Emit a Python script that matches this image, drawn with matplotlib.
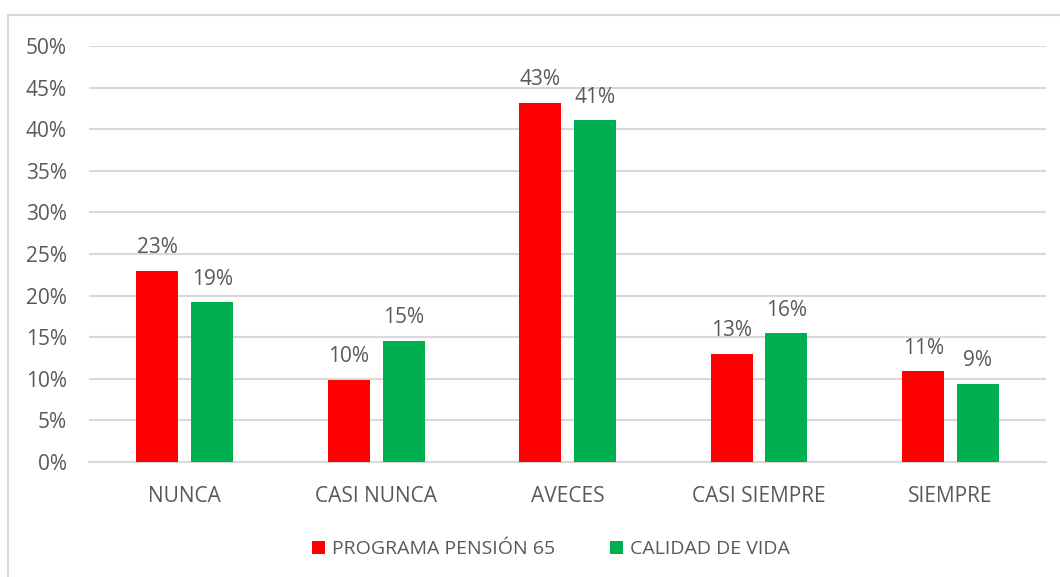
import matplotlib.pyplot as plt
from matplotlib.lines import Line2D
import numpy as np

categories = ["NUNCA", "CASI NUNCA", "AVECES", "CASI SIEMPRE", "SIEMPRE"]
pension = [0.230, 0.099, 0.432, 0.130, 0.109]
calidad = [0.192, 0.146, 0.411, 0.155, 0.094]
pension_labels = ["23%", "10%", "43%", "13%", "11%"]
calidad_labels = ["19%", "15%", "41%", "16%", "9%"]
series_names = ["PROGRAMA PENSIÓN 65", "CALIDAD DE VIDA"]

RED = "#ff0000"
GREEN = "#00b050"
TEXT = "#595959"
GRID = "#d9d9d9"

plt.rcParams["font.family"] = ["Open Sans", "DejaVu Sans"]

fig = plt.figure(figsize=(10.6, 5.77), dpi=100)
ax = fig.add_axes([0.084, 0.1993, 0.903, 0.721])

x = np.arange(len(categories))
w = 0.22
off = 0.143
b1 = ax.bar(x - off, pension, w, color=RED, label=series_names[0], zorder=3)
b2 = ax.bar(x + off, calidad, w, color=GREEN, label=series_names[1], zorder=3)

for bars, labels in ((b1, pension_labels), (b2, calidad_labels)):
    for rect, lab in zip(bars, labels):
        ax.annotate(lab, (rect.get_x() + rect.get_width() / 2, rect.get_height()),
                    xytext=(0, 9), textcoords="offset points", ha="center", va="bottom",
                    fontsize=15, color=TEXT)

ax.set_xlim(-0.5, len(categories) - 0.5)
ax.set_ylim(0, 0.5)
ax.set_yticks(np.arange(0, 0.51, 0.05))
ax.set_yticklabels([f"{int(round(v * 100))}%" for v in np.arange(0, 0.51, 0.05)])
ax.set_xticks(x)
ax.set_xticklabels(categories)
ax.tick_params(axis="both", length=0, colors=TEXT, labelsize=15)
ax.tick_params(axis="y", pad=16)
ax.tick_params(axis="x", pad=17)
ax.yaxis.grid(True, color=GRID, linewidth=1.5, zorder=0)
for s in ("top", "right", "left"):
    ax.spines[s].set_visible(False)
ax.spines["bottom"].set_color(GRID)
ax.spines["bottom"].set_linewidth(1.5)

leg = fig.legend(loc="center", bbox_to_anchor=(0.52, 0.048), ncol=2, frameon=False,
                 fontsize=14, handlelength=0.65, handleheight=0.65, columnspacing=2.8,
                 handletextpad=0.4)
for t in leg.get_texts():
    t.set_color(TEXT)

# outer chart frame (top and left edges)
fig.add_artist(Line2D([8 / 1060, 1], [1 - 15 / 577, 1 - 15 / 577], color=GRID, linewidth=1.5))
fig.add_artist(Line2D([8 / 1060, 8 / 1060], [0, 1 - 15 / 577], color=GRID, linewidth=1.5))

fig.savefig("out.png", dpi=100)
